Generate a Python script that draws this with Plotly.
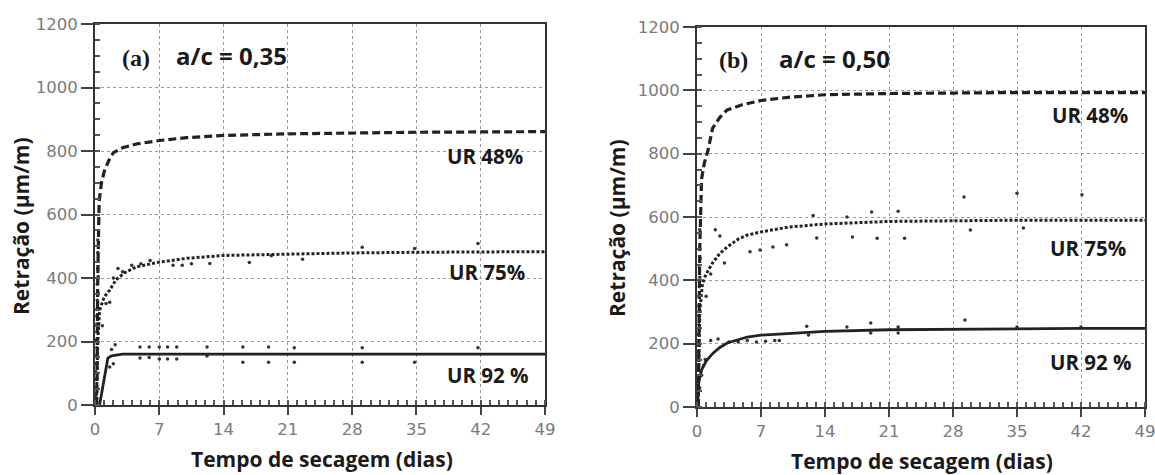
import plotly.graph_objects as go

# ---------------- data ----------------
# Panel (a) a/c = 0,35
a48_x = [0.2, 0.3, 0.45, 0.7, 1.0, 1.5, 2.0, 3.0, 4.5, 7, 10, 14, 21, 28, 35, 42, 49]
a48_y = [0, 400, 640, 700, 735, 770, 795, 810, 822, 833, 842, 849, 854, 857, 859, 860, 861]
a75_x = [0.15, 0.3, 0.5, 1.0, 1.6, 2.3, 3.3, 4.5, 7, 10, 14, 21, 28, 35, 42, 49]
a75_y = [0, 200, 298, 340, 362, 395, 418, 435, 450, 462, 471, 476, 479, 481, 482, 483]
a92_x = [0.5, 0.8, 1.1, 1.4, 1.8, 2.3, 3, 7, 14, 49]
a92_y = [0, 50, 110, 148, 155, 158, 160, 160, 160, 160]
a_pts_x = [1.8, 2.2, 1.6, 2.0, 4.9, 5.9, 7.0, 7.9, 8.9, 12.2, 16.1, 18.9, 21.7, 29.1, 41.7,
           4.9, 5.9, 7.0, 7.9, 8.9, 12.2, 16.1, 18.9, 21.7, 29.1, 34.8,
           0.8, 1.2, 1.6, 2.0, 2.5, 3.0, 4.0, 5.0, 6.0, 8.5, 9.5, 10.5, 12.5, 16.8, 19.2, 22.6, 29.1, 34.8, 41.7,
           0.1, 0.15, 0.15, 0.2, 0.2, 0.2, 0.25, 0.25, 0.3, 0.3, 0.3,
           0.1, 0.1, 0.15, 0.15, 0.2, 0.25, 0.3, 0.35]
a_pts_y = [175, 190, 120, 130, 183, 183, 183, 183, 183, 183, 183, 183, 180, 180, 180,
           148, 150, 145, 145, 145, 154, 135, 135, 135, 135, 135,
           250, 320, 324, 400, 430, 420, 440, 445, 455, 440, 440, 445, 446, 449, 470, 459, 497, 493, 509,
           30, 80, 130, 180, 230, 280, 330, 380, 430, 480, 520,
           55, 105, 155, 205, 255, 305, 355, 405]

# Panel (b) a/c = 0,50
b48_x = [0.15, 0.3, 0.5, 0.8, 1.2, 1.7, 2.5, 3.3, 5, 7, 10, 14, 21, 28, 35, 42, 49]
b48_y = [0, 500, 720, 770, 810, 880, 915, 938, 955, 968, 978, 986, 990, 992, 993, 993, 993]
b75_x = [0.1, 0.3, 0.6, 1.0, 1.7, 2.5, 3.3, 4.5, 5.5, 7, 10, 14, 21, 28, 35, 42, 49]
b75_y = [0, 300, 390, 420, 455, 485, 505, 530, 543, 553, 568, 578, 586, 589, 590, 590, 590]
b92_x = [0.05, 0.2, 0.5, 1.0, 1.75, 2.5, 3.3, 5.5, 7, 10, 14, 21, 28, 35, 42, 49]
b92_y = [0, 80, 117, 145, 170, 188, 202, 221, 227, 233, 239, 244, 246, 247, 248, 248]
b_pts_x = [1.5, 2.3, 3.5, 4.5, 5.5, 6.5, 7.5, 8.5, 9.0, 12.0, 12.2, 16.4, 19.0, 19.0, 22.0, 22.0, 29.3, 35.0, 42.0,
           0.3, 0.5, 0.7, 0.9,
           1.0, 1.5, 2.0, 2.5, 3.0, 5.8, 6.9, 8.3, 9.8, 12.7, 13.1, 16.4, 17.0, 19.1, 19.7, 22.0, 22.7,
           29.2, 29.9, 35.0, 35.7, 42.1,
           0.1, 0.15, 0.15, 0.2, 0.2, 0.2, 0.25, 0.25, 0.3, 0.3,
           0.1, 0.1, 0.15, 0.15, 0.2, 0.25, 0.3, 0.35]
b_pts_y = [210, 215, 205, 205, 210, 205, 208, 210, 210, 255, 227, 253, 265, 234, 234, 253, 275, 253, 253,
           60, 100, 130, 150,
           350, 420, 560, 540, 455, 490, 496, 505, 512, 605, 534, 600, 537, 616, 533, 618, 533,
           663, 559, 675, 565, 670,
           40, 90, 150, 200, 260, 320, 380, 440, 500, 560,
           65, 120, 175, 230, 290, 350, 410, 470]

x_ticks = [0, 7, 14, 21, 28, 35, 42, 49]
y_ticks = [0, 200, 400, 600, 800, 1000, 1200]

INK = "#222222"
fig = go.Figure()

def add_panel(xa, ya, c48, c75, c92, pts):
    fig.add_trace(go.Scatter(x=pts[0], y=pts[1], mode="markers", xaxis=xa, yaxis=ya,
                             marker=dict(size=3.5, color="#333333"), showlegend=False, hoverinfo="skip"))
    fig.add_trace(go.Scatter(x=c48[0], y=c48[1], mode="lines", xaxis=xa, yaxis=ya,
                             line=dict(color=INK, width=3.2, dash="8px,4px"), showlegend=False))
    fig.add_trace(go.Scatter(x=c75[0], y=c75[1], mode="lines", xaxis=xa, yaxis=ya,
                             line=dict(color=INK, width=3, dash="3px,2px"), showlegend=False))
    fig.add_trace(go.Scatter(x=c92[0], y=c92[1], mode="lines", xaxis=xa, yaxis=ya,
                             line=dict(color=INK, width=2.8), showlegend=False))

add_panel("x", "y", (a48_x, a48_y), (a75_x, a75_y), (a92_x, a92_y), (a_pts_x, a_pts_y))
add_panel("x2", "y2", (b48_x, b48_y), (b75_x, b75_y), (b92_x, b92_y), (b_pts_x, b_pts_y))

tickfont = dict(family="DejaVu Sans", size=16.5, color="#7a7a7a")

def xaxis(domain, anchor):
    return dict(domain=domain, anchor=anchor, range=[0, 49], tickvals=x_ticks,
                ticks="outside", ticklen=8, tickwidth=1.5, tickcolor="#444",
                showline=True, linecolor="#333", linewidth=2, mirror=True,
                showgrid=True, gridcolor="#999999", griddash="dot", gridwidth=1,
                zeroline=False, tickfont=tickfont, automargin=False, ticklabeloverflow="allow",
                minor=dict(dtick=1, ticks="inside", ticklen=5, tickcolor="#555", showgrid=False))

def yaxis(domain, anchor):
    return dict(domain=domain, anchor=anchor, range=[0, 1200], tickvals=y_ticks,
                ticks="outside", ticklen=12, tickwidth=1.5, tickcolor="#444",
                showline=True, linecolor="#333", linewidth=2, mirror=True,
                showgrid=True, gridcolor="#999999", griddash="dot", gridwidth=1,
                zeroline=False, tickfont=tickfont, automargin=False, ticklabeloverflow="allow",
                minor=dict(dtick=50, ticks="inside", ticklen=5, tickcolor="#555", showgrid=False))

SANS = "Open Sans, Lato, sans-serif"
xtitle_font = dict(family=SANS, size=21, color="#1a1a1a")
ytitle_font = dict(family=SANS, size=21, color="#1a1a1a")
lab_font = dict(family=SANS, size=20.5, color="#1a1a1a")
ac_font = dict(family=SANS, size=24, color="#1a1a1a")
panel_font = dict(family="Liberation Serif, Times New Roman, serif", size=24, color="#1a1a1a")

annotations = []
def ann(text, x, y, xref, yref, font, xanchor="left", textangle=0):
    annotations.append(dict(text=text, x=x, y=y, xref=xref, yref=yref, showarrow=False,
                            xanchor=xanchor, yanchor="middle", font=font, textangle=textangle))

# panel labels
ann("<b>(a)</b>", 2.7, 1093, "x", "y", panel_font)
ann("<b>a/c = 0,35</b>", 8.6, 1100, "x", "y", ac_font)
ann("<b>(b)</b>", 2.2, 1096, "x2", "y2", panel_font)
ann("<b>a/c = 0,50</b>", 8.7, 1102, "x2", "y2", ac_font)
# curve labels
ann("<b>UR 48%</b>", 38.1, 785, "x", "y", lab_font)
ann("<b>UR 75%</b>", 38.3, 418, "x", "y", lab_font)
ann("<b>UR 92 %</b>", 38.1, 94, "x", "y", lab_font)
ann("<b>UR 48%</b>", 38.6, 922, "x2", "y2", lab_font)
ann("<b>UR 75%</b>", 38.4, 502, "x2", "y2", lab_font)
ann("<b>UR 92 %</b>", 38.4, 142, "x2", "y2", lab_font)
# axis titles
ann("<b>Tempo de secagem (dias)</b>", 322 / 1155, 1 - 459 / 475, "paper", "paper", xtitle_font, "center")
ann("<b>Tempo de secagem (dias)</b>", 922 / 1155, 1 - 461 / 475, "paper", "paper", xtitle_font, "center")
ann("<b>Retração (µm/m)</b>", 21 / 1155, 1 - 226 / 475, "paper", "paper", ytitle_font, "center", -90)
ann("<b>Retração (µm/m)</b>", 617 / 1155, 1 - 228 / 475, "paper", "paper", ytitle_font, "center", -90)

fig.update_layout(
    width=1155, height=475,
    margin=dict(l=0, r=0, t=0, b=0),
    paper_bgcolor="white", plot_bgcolor="white",
    xaxis=xaxis([95 / 1155, 545 / 1155], "y"),
    yaxis=yaxis([1 - 405 / 475, 1 - 24 / 475], "x"),
    xaxis2=xaxis([697 / 1155, 1145 / 1155], "y2"),
    yaxis2=yaxis([1 - 407 / 475, 1 - 27 / 475], "x2"),
    annotations=annotations,
)

fig.write_html("out.html")
